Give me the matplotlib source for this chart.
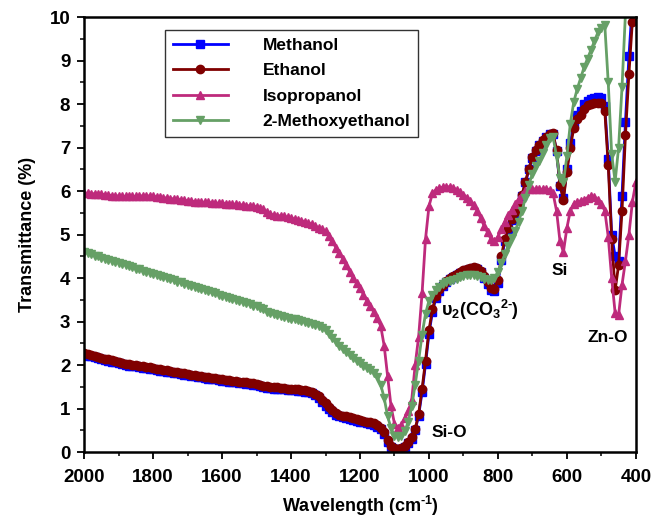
import numpy as np
import matplotlib
matplotlib.use("Agg")
import matplotlib.pyplot as plt
from matplotlib.ticker import MultipleLocator

plt.rcParams['font.family'] = ['Liberation Sans', 'DejaVu Sans']
plt.rcParams['font.weight'] = 'bold'
plt.rcParams['mathtext.fontset'] = 'custom'
plt.rcParams['mathtext.rm'] = 'Liberation Sans:bold'
plt.rcParams['mathtext.it'] = 'Liberation Sans:bold'
plt.rcParams['mathtext.bf'] = 'Liberation Sans:bold'
plt.rcParams['mathtext.sf'] = 'Liberation Sans:bold'

wavenumber = list(range(2000, 399, -10))

isopropanol = [
    5.95, 5.95, 5.94, 5.94, 5.93, 5.93, 5.92, 5.91, 5.90, 5.89,
    5.89, 5.88, 5.88, 5.88, 5.88, 5.88, 5.89, 5.89, 5.89, 5.89,
    5.88, 5.87, 5.86, 5.85, 5.84, 5.83, 5.82, 5.81, 5.80, 5.79,
    5.78, 5.77, 5.76, 5.75, 5.75, 5.74, 5.74, 5.73, 5.73, 5.72,
    5.72, 5.71, 5.71, 5.70, 5.70, 5.69, 5.68, 5.67, 5.66, 5.65,
    5.64, 5.62, 5.58, 5.52, 5.47, 5.45, 5.44, 5.43, 5.42, 5.40,
    5.38, 5.36, 5.34, 5.32, 5.30, 5.27, 5.24, 5.20, 5.15, 5.12,
    5.08, 4.97, 4.85, 4.70, 4.58, 4.45, 4.30, 4.15, 4.00, 3.88,
    3.78, 3.62, 3.48, 3.35, 3.22, 3.08, 2.90, 2.45, 1.75, 1.05,
    0.65, 0.55, 0.63, 0.78, 0.95, 1.20, 2.00, 2.65, 3.65, 4.90,
    5.65, 5.95, 6.03, 6.07, 6.09, 6.10, 6.10, 6.08, 6.03, 5.98,
    5.92, 5.85, 5.78, 5.68, 5.55, 5.38, 5.20, 5.05, 4.90, 4.85,
    4.95, 5.12, 5.30, 5.45, 5.57, 5.70, 5.82, 5.92, 6.00, 6.04,
    6.05, 6.05, 6.05, 6.04, 6.05, 6.03, 5.95, 5.55, 4.85, 4.60,
    5.15, 5.55, 5.70, 5.75, 5.78, 5.80, 5.85, 5.88, 5.87, 5.80,
    5.70, 5.55, 4.95, 4.00, 3.20, 3.15, 3.85, 4.40, 5.00, 5.75,
    6.20,
]

ethanol = [
    2.27, 2.25, 2.23, 2.21, 2.19, 2.17, 2.15, 2.13, 2.11, 2.09,
    2.07, 2.05, 2.03, 2.02, 2.01, 2.00, 1.99, 1.97, 1.96, 1.95,
    1.93, 1.92, 1.90, 1.89, 1.88, 1.86, 1.85, 1.84, 1.82, 1.81,
    1.80, 1.78, 1.77, 1.76, 1.75, 1.73, 1.72, 1.71, 1.70, 1.69,
    1.67, 1.66, 1.65, 1.64, 1.63, 1.62, 1.61, 1.60, 1.59, 1.58,
    1.57, 1.55, 1.53, 1.51, 1.50, 1.49, 1.49, 1.48, 1.47, 1.46,
    1.45, 1.45, 1.44, 1.43, 1.42, 1.40, 1.38, 1.34, 1.28, 1.20,
    1.12, 1.04, 0.97, 0.90, 0.86, 0.84, 0.82, 0.80, 0.78, 0.76,
    0.74, 0.72, 0.70, 0.68, 0.66, 0.62, 0.56, 0.46, 0.27, 0.14,
    0.09, 0.08, 0.10, 0.14, 0.22, 0.34, 0.52, 0.88, 1.45, 2.10,
    2.80, 3.28, 3.58, 3.74, 3.85, 3.94, 4.00, 4.05, 4.10, 4.14,
    4.18, 4.21, 4.24, 4.26, 4.24, 4.17, 4.04, 3.90, 3.78, 3.76,
    3.95, 4.50, 4.90, 5.15, 5.35, 5.52, 5.68, 5.92, 6.22, 6.52,
    6.78, 6.95, 7.07, 7.17, 7.25, 7.32, 7.33, 6.94, 6.15, 5.80,
    6.45, 7.00, 7.45, 7.65, 7.75, 7.90, 7.97, 8.00, 8.02, 8.03,
    8.02, 7.85, 6.60, 4.90, 3.72, 4.30, 5.55, 7.30, 8.70, 9.90,
    10.4,
]

methanol = [
    2.24, 2.22, 2.20, 2.18, 2.16, 2.14, 2.12, 2.10, 2.08, 2.06,
    2.04, 2.02, 2.00, 1.99, 1.98, 1.97, 1.96, 1.94, 1.93, 1.92,
    1.90, 1.89, 1.87, 1.86, 1.85, 1.83, 1.82, 1.81, 1.79, 1.78,
    1.77, 1.75, 1.74, 1.73, 1.72, 1.70, 1.69, 1.68, 1.67, 1.66,
    1.64, 1.63, 1.62, 1.61, 1.60, 1.59, 1.58, 1.57, 1.56, 1.55,
    1.54, 1.52, 1.50, 1.48, 1.47, 1.46, 1.46, 1.45, 1.44, 1.43,
    1.42, 1.42, 1.41, 1.40, 1.39, 1.37, 1.35, 1.31, 1.25, 1.16,
    1.07, 0.99, 0.92, 0.86, 0.82, 0.80, 0.78, 0.76, 0.74, 0.72,
    0.70, 0.68, 0.66, 0.64, 0.62, 0.58, 0.52, 0.42, 0.24, 0.12,
    0.07, 0.06, 0.08, 0.12, 0.20, 0.31, 0.50, 0.84, 1.38, 2.02,
    2.72, 3.22, 3.54, 3.70, 3.82, 3.91, 3.97, 4.02, 4.07, 4.11,
    4.15, 4.18, 4.21, 4.23, 4.21, 4.14, 4.00, 3.86, 3.72, 3.70,
    3.88, 4.42, 4.85, 5.12, 5.33, 5.50, 5.66, 5.90, 6.20, 6.50,
    6.76, 6.93, 7.06, 7.16, 7.24, 7.31, 7.32, 6.92, 6.12, 5.85,
    6.50, 7.10, 7.55, 7.75, 7.85, 8.00, 8.08, 8.12, 8.15, 8.17,
    8.15, 7.95, 6.75, 5.00, 4.50, 4.40, 5.90, 7.60, 9.10, 10.3,
    10.6,
]

methoxyethanol = [
    4.60, 4.57, 4.55, 4.52, 4.50, 4.47, 4.45, 4.42, 4.40, 4.37,
    4.35, 4.32, 4.30, 4.27, 4.25, 4.22, 4.20, 4.17, 4.15, 4.12,
    4.10, 4.07, 4.05, 4.02, 4.00, 3.97, 3.95, 3.92, 3.90, 3.87,
    3.85, 3.82, 3.80, 3.77, 3.75, 3.72, 3.70, 3.67, 3.65, 3.62,
    3.60, 3.57, 3.55, 3.52, 3.50, 3.47, 3.45, 3.42, 3.40, 3.37,
    3.35, 3.32, 3.28, 3.22, 3.19, 3.17, 3.15, 3.13, 3.11, 3.09,
    3.07, 3.05, 3.03, 3.01, 2.99, 2.97, 2.95, 2.93, 2.90, 2.86,
    2.80, 2.72, 2.62, 2.52, 2.44, 2.36, 2.29, 2.23, 2.16, 2.10,
    2.04, 1.98, 1.93, 1.88, 1.82, 1.72, 1.55, 1.25, 0.82, 0.55,
    0.38, 0.34, 0.37, 0.48, 0.70, 1.05, 1.55, 2.10, 2.70, 3.18,
    3.48, 3.62, 3.72, 3.80, 3.86, 3.90, 3.93, 3.96, 3.99, 4.02,
    4.05, 4.07, 4.08, 4.08, 4.06, 4.03, 3.99, 3.96, 3.95, 4.00,
    4.15, 4.35, 4.55, 4.75, 4.92, 5.08, 5.30, 5.55, 5.85, 6.15,
    6.40, 6.58, 6.70, 6.88, 7.05, 7.22, 7.25, 6.80, 6.30, 6.20,
    6.80, 7.55, 8.05, 8.35, 8.60, 8.85, 9.05, 9.25, 9.45, 9.65,
    9.75, 9.82, 8.50, 6.85, 6.22, 7.00, 8.40, 10.1, 10.6, 10.9,
    11.1,
]

series = [
    ("Methanol", methanol, "#0000FF", "s"),
    ("Ethanol", ethanol, "#800000", "o"),
    ("Isopropanol", isopropanol, "#BE2A7C", "^"),
    ("2-Methoxyethanol", methoxyethanol, "#66A066", "v"),
]

fig = plt.figure(figsize=(6.63, 5.22), dpi=100)
ax = fig.add_axes([0.127, 0.134, 0.832, 0.833])

for name, vals, col, mk in series:
    ax.plot(wavenumber, vals, color=col, marker=mk, markersize=6, lw=2,
            label=name, clip_on=True)

ax.set_xlim(2000, 400)
ax.set_ylim(0, 10)
ax.xaxis.set_major_locator(MultipleLocator(200))
ax.xaxis.set_minor_locator(MultipleLocator(100))
ax.yaxis.set_major_locator(MultipleLocator(1))
ax.yaxis.set_minor_locator(MultipleLocator(0.5))
ax.tick_params(which='both', direction='out', top=False, right=False)
ax.tick_params(which='major', length=5, width=1.3, labelsize=13.5)
ax.tick_params(axis='x', which='major', pad=7)
ax.tick_params(axis='y', which='major', pad=5)
ax.tick_params(which='minor', length=3, width=1.1)
for sp in ax.spines.values():
    sp.set_linewidth(1.8)

ax.set_xlabel(r"Wavelength (cm$^{\text{-}1}$)", fontsize=13, fontweight='bold', labelpad=6)
ax.set_ylabel("Transmittance (%)", fontsize=13, fontweight='bold', labelpad=10)

leg = ax.legend(loc='upper left', bbox_to_anchor=(0.146, 0.97), fontsize=12.5,
                frameon=True, fancybox=False, edgecolor='black',
                handlelength=3.2, handletextpad=2.0, borderpad=0.45,
                labelspacing=0.58, borderaxespad=0)
leg.get_frame().set_linewidth(1.0)
for t in leg.get_texts():
    t.set_fontweight('bold')

ax.text(940, 0.46, "Si-O", fontsize=12.5, fontweight='bold', ha='center', va='center')
ax.text(852, 3.26, r"υ$_2$(CO$_3$$^{2\text{-}}$)", fontsize=13, fontweight='bold',
        ha='center', va='center')
ax.text(620, 4.18, "Si", fontsize=12.5, fontweight='bold', ha='center', va='center')
ax.text(480, 2.64, "Zn-O", fontsize=12.5, fontweight='bold', ha='center', va='center')

fig.savefig("out.png", dpi=100)
